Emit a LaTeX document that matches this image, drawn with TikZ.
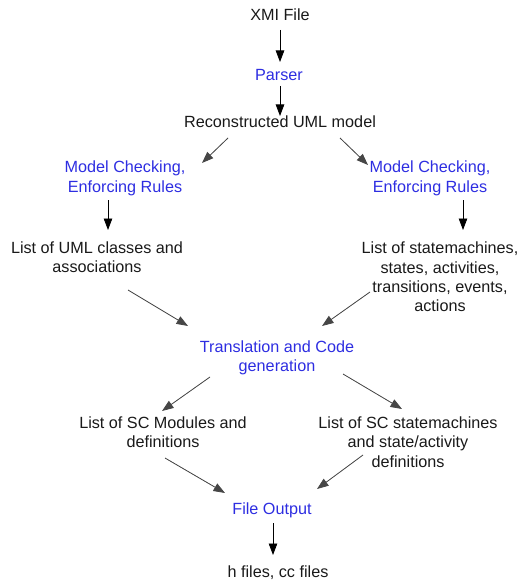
\documentclass[tikz,border=0pt]{standalone}
\usepackage{fontspec}
\setmainfont{Liberation Sans}
\usetikzlibrary{arrows.meta,calc}
\definecolor{stepblue}{RGB}{45,45,225}
\definecolor{inktext}{RGB}{25,25,25}
\definecolor{diagline}{RGB}{70,70,70}
\begin{document}
\begin{tikzpicture}[x=1pt,y=-1pt,
  every node/.style={font=\fontsize{16.2}{19.4}\selectfont, inner sep=0pt, align=center},
  datatxt/.style={text=inktext},
  steptxt/.style={text=stepblue},
  flow/.style={-{Triangle[length=11.5pt,width=8.5pt]}, line width=0.8pt, draw=black},
  diag/.style={flow, draw=diagline, fill=diagline}]
  \useasboundingbox (0,0) rectangle (524,585);

  % stages and intermediate products
  \node[datatxt] (xmi)    at (280,15)    {XMI File};
  \node[steptxt] (parser) at (279,75)    {Parser};
  \node[datatxt] (rec)    at (280,122)   {Reconstructed UML model};
  \node[steptxt] (mcl)    at (125,178.5) {Model Checking,\\Enforcing Rules};
  \node[steptxt] (mcr)    at (430,178.5) {Model Checking,\\Enforcing Rules};
  \node[datatxt] (lcl)    at (97,257.5)  {List of UML classes and\\associations};
  \node[datatxt] (lsr)    at (440,277)   {List of statemachines,\\states, activities,\\transitions, events,\\actions};
  \node[steptxt] (trans)  at (277,358)   {Translation and Code\\generation};
  \node[datatxt] (scm)    at (163,432.5) {List of SC Modules and\\definitions};
  \node[datatxt] (scs)    at (408,442)   {List of SC statemachines\\and state/activity\\definitions};
  \node[steptxt] (fout)   at (272,510)   {File Output};
  \node[datatxt] (hfiles) at (278,573)   {h files, cc files};

  % vertical flow arrows
  \draw[flow] ($(xmi)+(0,15)$)     -- ($(parser)+(1,-13)$);
  \draw[flow] ($(parser)+(1,11)$)  -- ($(rec)+(0,-6)$);
  \draw[flow] ($(mcl)+(-17,21.5)$) -- ($(lcl)+(11,-27.5)$);
  \draw[flow] ($(mcr)+(33,21.5)$)  -- ($(lsr)+(23,-47)$);
  \draw[flow] ($(fout)+(1,13)$)    -- ($(hfiles)+(-5,-18)$);

  % diagonal flow arrows
  \draw[diag] ($(rec)+(-52,16)$)   -- ($(mcl)+(77,-15.5)$);
  \draw[diag] ($(rec)+(60,16)$)    -- ($(mcr)+(-62,-13.5)$);
  \draw[diag] ($(lcl)+(31,32.5)$)  -- ($(trans)+(-89,-32)$);
  \draw[diag] ($(lsr)+(-70,15)$)   -- ($(trans)+(45,-32)$);
  \draw[diag] ($(trans)+(-67,19)$) -- ($(scm)+(-1,-21.5)$);
  \draw[diag] ($(trans)+(66,16)$)  -- ($(scs)+(-6,-33)$);
  \draw[diag] ($(scm)+(2,25.5)$)   -- ($(fout)+(-47,-17)$);
  \draw[diag] ($(scs)+(-45,13)$)   -- ($(fout)+(45,-21)$);
\end{tikzpicture}
\end{document}
